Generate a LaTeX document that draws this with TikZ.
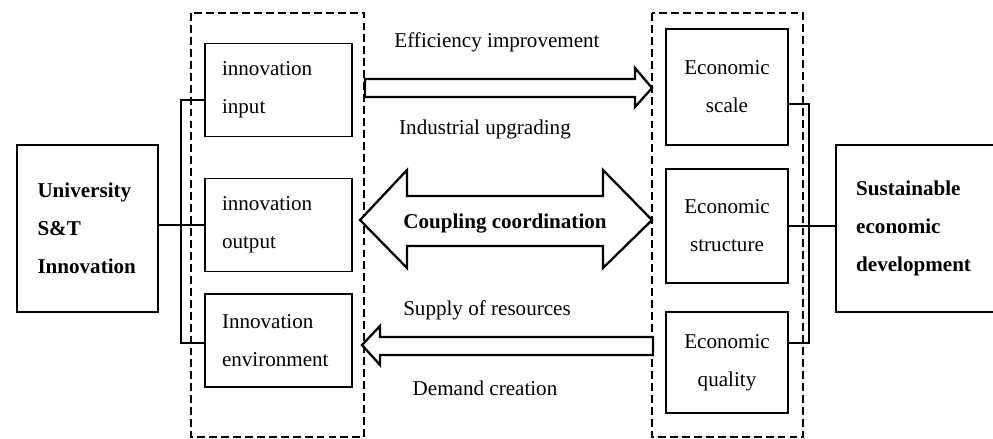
\documentclass[tikz,border=0pt]{standalone}
\usepackage{fontspec}
\setmainfont{Liberation Serif}
\usetikzlibrary{positioning}

\tikzset{
  every node/.style={font=\fontsize{12}{21.6}\selectfont},
  inbox/.style={draw, line width=0.8pt, minimum width=2.94cm, minimum height=1.86cm, text width=2.26cm, inner xsep=0.34cm, align=left},
  ecobox/.style={draw, line width=0.8pt, minimum width=2.44cm, align=center},
  mainbox/.style={draw, line width=1.4pt, minimum height=3.34cm, align=left, font=\fontsize{12}{21.6}\selectfont\bfseries},
  group/.style={line width=1.4pt, dash pattern=on 4.5pt off 2.3pt},
  blockarrow/.style={line width=1.3pt, fill=white, line join=miter},
  link/.style={line width=0.6pt}
}

\begin{document}
\begin{tikzpicture}[x=0.02cm, y=-0.02cm]
\useasboundingbox (0,0) rectangle (993,439);

%dashed groups
\draw[group] (191,13) rectangle (364,437);
\draw[group] (652,13) rectangle (803,437);

%university side
\node[mainbox, minimum width=2.82cm, text width=2.0cm] (univ) at (87.5,228.5) {University\\S\&T\\Innovation};
\node[inbox] (in1) at (278.5,90) {innovation\\input};
\node[inbox] (out) at (278.5,225) {innovation\\output};
\node[inbox] (env) at (278.5,340.5) {Innovation\\environment};

%economy side
\node[ecobox, minimum height=2.32cm] (scl) at (727,87) {Economic\\scale};
\node[ecobox, minimum height=2.28cm] (str) at (727,226) {Economic\\structure};
\node[ecobox, minimum height=2.02cm] (qly) at (727,362.5) {Economic\\quality};
\node[mainbox, anchor=west, text width=2.6cm, inner xsep=0.4cm] (sus) at (835,228.5) {Sustainable\\economic\\development};

%brackets
\coordinate (lt) at (181,100);
\coordinate (lb) at (181,343);
\draw[link] (in1.west |- lt) -- (lt) -- (lb) -- (env.west |- lb);
\draw[link] (out.west) -- (out.west -| univ.east);
\coordinate (rt) at (809,104);
\coordinate (rb) at (809,343);
\draw[link] (scl.east |- rt) -- (rt) -- (rb) -- (qly.east |- rb);
\draw[link] (str.east) -- (str.east -| sus.west);

%block arrows
\draw[blockarrow] (365,79) -- (635,79) -- (635,68) -- (652,88) -- (635,107) -- (635,97) -- (365,97) -- cycle;
\draw[blockarrow] (360,220) -- (407,170) -- (407,196) -- (603,196) -- (603,170) -- (652,220) -- (603,268) -- (603,246) -- (407,246) -- (407,268) -- cycle;
\draw[blockarrow] (653,337) -- (380,337) -- (380,326) -- (362,345) -- (380,365) -- (380,355) -- (653,355) -- cycle;

%labels
\node (eff) at (497,42) {Efficiency improvement};
\node (ind) at (485,129) {Industrial upgrading};
\node[font=\fontsize{12}{21.6}\selectfont\bfseries] (coup) at (505,224) {Coupling coordination};
\node (sup) at (487,310) {Supply of resources};
\node (dem) at (485,388) {Demand creation};

\end{tikzpicture}
\end{document}
